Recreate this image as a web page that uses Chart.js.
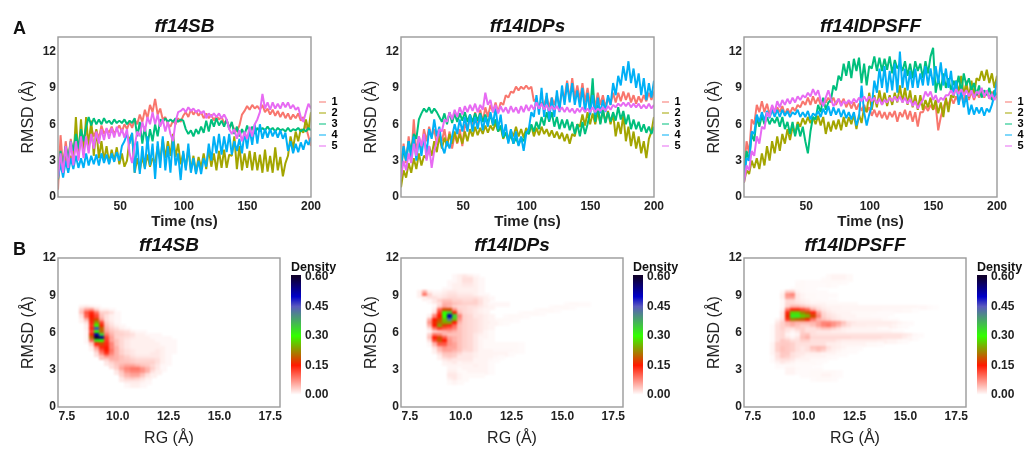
<!DOCTYPE html>
<html><head><meta charset="utf-8">
<script src="https://cdn.jsdelivr.net/npm/chart.js@4"></script>
<style>
html,body{margin:0;padding:0;background:#fff;width:1024px;height:450px;overflow:hidden}
canvas{position:absolute;filter:blur(.5px)}
.tag{position:absolute;font:bold 18px "Liberation Sans",Arial,sans-serif;color:#111;line-height:18px;filter:blur(.3px)}
</style></head><body>
<div class="tag" style="left:13px;top:19px">A</div>
<div class="tag" style="left:13px;top:240px">B</div>
<script>
const seriesNames=['1','2','3','4','5'];
const seriesColors=['#F8766D','#A3A500','#00BF7D','#00B0F6','#E76BF3'];
const timeTicks=[50,100,150,200];
const rmsdTicks=[0,3,6,9,12];
const rgTicks=[7.5,10,12.5,15,17.5];
const densityTicks=[0,0.15,0.30,0.45,0.60];
const densityStops=[0,0.15,0.30,0.45,0.50,0.60];
const densityColors=[[255,255,255],[255,25,0],[50,255,0],[90,90,190],[0,0,200],[15,0,45]];
const titles=['ff14SB','ff14IDPs','ff14IDPSFF'];

const sb1=[0.6,5.1,2.4,4.6,3.0,4.8,3.2,4.5,3.4,5.0,4.4,5.6,4.7,5.8,5.0,5.5,4.8,5.9,5.2,5.6,5.3,5.8,5.2,5.6,5.9,5.4,6.0,5.6,6.2,5.7,6.4,6.0,6.8,6.2,7.2,6.5,7.6,7.0,8.1,6.8,7.3,6.4,6.6,6.0,5.8,6.3,6.0,6.5,6.2,6.7,7.0,6.6,7.2,6.8,7.1,6.7,7.0,6.5,6.9,6.5,6.8,6.3,6.7,6.4,6.6,6.1,6.3,5.8,6.0,5.6,5.4,5.9,6.8,7.1,7.5,7.2,7.6,7.3,7.5,7.2,7.6,7.0,7.3,6.8,7.2,6.7,7.1,6.6,7.0,6.5,6.9,6.4,6.8,6.5,6.9,6.3,6.6,5.8,5.0,4.2];
const sb2=[1.4,3.2,2.0,3.6,2.3,3.4,2.8,6.6,3.2,6.4,3.5,6.6,4.0,6.3,3.4,5.6,3.2,4.6,3.0,4.2,2.8,3.9,3.0,4.1,2.7,3.6,2.5,3.0,4.8,5.2,2.0,3.2,2.2,3.3,2.4,3.5,2.5,3.2,2.8,4.2,3.0,4.8,3.2,4.6,3.4,5.2,3.3,4.4,2.7,3.6,2.4,4.0,2.2,3.4,2.0,3.3,2.4,3.6,2.3,4.0,2.5,3.6,2.2,3.8,2.4,3.9,2.4,3.5,3.4,5.0,2.3,4.2,2.2,3.6,2.4,3.8,2.2,3.7,2.2,3.5,2.0,3.9,2.1,3.4,2.0,4.1,2.2,3.3,1.7,2.8,3.4,5.0,4.0,5.4,4.6,5.6,5.3,6.4,5.5,7.0];
const sb3=[2.0,3.8,2.4,4.2,3.2,4.6,3.8,5.2,4.0,5.6,4.6,5.8,6.6,5.9,6.5,6.0,6.4,6.0,6.5,6.1,6.3,6.0,6.4,6.1,6.3,6.1,6.4,6.0,6.3,6.1,6.5,5.0,6.2,4.4,5.8,4.2,5.6,4.6,6.0,5.0,6.4,6.2,6.5,6.2,6.4,6.2,6.5,6.2,6.4,6.3,5.6,5.2,5.5,5.0,5.6,5.2,5.8,5.3,6.3,5.4,6.4,5.8,6.5,5.9,6.3,5.8,6.4,5.6,6.2,5.2,5.8,5.0,5.6,5.1,5.9,5.3,5.8,5.2,5.7,5.4,5.7,5.5,5.8,5.5,5.7,5.4,5.7,5.5,5.6,5.4,5.7,5.4,5.6,5.5,5.7,5.4,5.6,5.4,5.7,5.5];
const sb4=[1.5,2.8,1.6,3.0,2.0,3.2,2.3,3.4,2.4,3.2,2.4,3.6,2.6,3.4,2.7,3.5,2.6,3.6,2.8,3.5,2.7,3.6,2.9,3.7,3.0,4.2,4.6,5.2,4.4,5.3,2.0,4.6,1.9,4.2,2.3,5.0,2.6,4.4,1.5,4.6,2.4,5.0,2.2,4.2,2.0,5.0,2.6,3.6,1.4,3.8,2.2,4.4,2.0,3.2,1.9,3.0,1.9,3.2,2.5,4.4,3.0,5.0,3.6,5.2,3.5,5.0,3.7,5.2,3.5,4.6,3.8,4.8,3.6,5.4,4.0,5.6,4.3,6.0,4.4,6.0,4.8,5.6,4.9,5.6,5.0,5.5,4.9,5.5,4.8,5.3,3.8,4.6,3.6,4.4,3.7,4.5,3.9,4.7,4.3,4.9];
const sb5=[1.6,3.6,2.0,4.2,2.4,4.6,2.6,4.6,3.0,5.0,3.2,5.0,3.6,5.2,4.0,5.4,4.4,5.6,4.7,5.7,4.8,5.7,4.9,5.8,5.0,5.6,4.9,5.6,3.6,2.8,4.2,5.4,5.0,6.2,5.4,6.6,6.0,7.0,6.0,6.8,5.8,6.4,5.4,6.2,5.2,4.6,6.2,7.0,7.1,7.3,7.0,7.4,7.1,7.3,7.0,7.2,6.9,7.1,6.5,6.9,6.6,6.9,6.6,6.9,6.5,6.8,6.4,5.6,5.2,5.6,4.8,5.5,4.6,5.4,4.8,5.8,5.0,6.0,6.4,7.0,8.5,7.3,7.8,7.2,7.8,7.3,7.7,7.3,7.8,7.4,7.8,7.3,7.6,7.2,7.4,6.6,6.2,7.0,7.7,7.3];

const idp1=[2.0,4.4,2.8,5.0,3.2,6.4,3.6,5.0,4.0,5.6,4.6,5.8,5.0,5.6,4.4,5.2,4.6,5.6,4.2,5.4,4.0,5.2,4.4,5.6,4.2,6.0,5.6,6.8,5.8,7.0,6.0,7.2,6.2,7.4,6.6,7.6,7.0,7.8,7.0,7.8,7.6,8.4,8.2,8.7,8.6,9.1,8.8,9.1,8.9,9.2,8.9,9.1,7.9,8.1,7.2,7.8,7.6,8.3,7.4,8.2,7.6,8.4,7.5,8.6,8.2,9.6,8.0,9.8,8.2,9.2,8.0,9.4,7.8,9.0,7.6,8.8,7.4,8.6,7.6,8.4,7.4,8.2,7.6,8.6,7.8,8.6,7.9,8.7,8.0,8.6,7.8,8.4,7.7,8.3,7.8,8.4,7.9,8.6,8.0,8.7];
const idp2=[0.8,2.2,1.6,2.8,2.0,3.2,2.3,3.6,2.6,3.4,3.2,4.2,3.4,4.6,3.7,5.0,4.0,4.9,4.2,5.2,4.4,5.4,4.5,5.2,4.4,5.4,4.6,5.6,5.0,5.8,5.1,5.7,5.2,5.9,5.3,5.9,5.5,6.1,5.4,5.8,4.8,5.3,4.8,5.5,5.0,5.8,5.0,5.6,4.9,5.7,5.2,5.9,5.0,5.7,5.1,5.8,5.2,5.6,5.0,5.5,4.9,5.4,4.8,5.3,4.6,5.2,4.4,5.2,5.0,6.0,5.8,6.8,5.9,7.0,6.0,6.9,6.0,7.0,6.1,7.2,6.2,7.1,6.0,6.9,5.0,6.2,5.2,6.8,4.6,5.8,4.2,5.4,4.0,5.0,3.6,4.6,3.2,4.8,5.4,6.6];
const idp3=[2.4,4.0,3.0,4.6,3.8,5.2,4.8,6.4,6.9,7.3,7.0,7.4,6.9,7.3,7.0,6.6,6.2,6.9,6.0,7.0,6.1,6.9,6.2,6.9,6.3,7.0,6.2,6.8,6.2,6.9,6.3,6.9,6.2,6.8,6.1,6.8,5.9,6.4,5.4,5.9,4.9,5.3,4.6,5.1,4.4,4.9,4.3,4.9,4.6,5.4,5.2,6.0,5.4,6.2,5.6,6.6,5.9,7.0,6.2,7.0,5.8,6.6,5.6,6.4,5.7,6.4,5.5,6.2,5.2,6.0,5.0,6.2,5.2,6.0,7.0,9.8,6.2,7.6,6.0,7.2,6.1,7.0,6.2,7.0,6.3,7.4,6.4,7.1,6.0,6.8,5.6,6.4,5.6,6.2,5.4,6.0,5.3,5.8,5.2,5.8];
const idp4=[2.6,4.2,3.0,4.6,3.2,5.0,3.0,4.8,3.4,5.0,3.6,5.6,4.8,6.4,5.0,5.8,4.2,3.6,4.6,4.0,5.0,6.0,5.2,6.4,5.4,6.6,5.4,6.8,5.4,6.6,5.6,6.8,5.5,6.6,5.8,7.0,6.0,7.4,5.6,6.8,5.0,6.0,4.4,5.6,4.4,5.4,4.2,5.0,3.8,5.2,5.6,7.0,6.6,8.4,6.8,9.0,6.6,8.6,6.4,8.2,6.6,8.8,7.0,9.2,7.6,9.4,7.8,9.4,7.6,8.8,7.4,9.0,7.0,8.6,6.8,8.4,6.8,8.2,6.9,8.0,7.0,8.4,7.6,9.4,8.4,10.0,9.2,10.8,9.6,11.2,9.4,10.6,9.0,10.2,8.4,9.8,8.0,9.4,8.2,9.6];
const idp5=[1.6,3.0,2.2,3.6,2.8,4.4,3.4,5.0,4.2,5.2,3.0,4.2,2.4,3.8,4.6,5.6,5.4,6.4,6.2,7.0,6.4,7.2,6.6,7.4,6.8,7.5,7.0,7.6,7.1,7.7,7.0,7.6,7.2,8.6,7.6,8.0,7.0,7.6,6.9,7.5,7.0,7.4,6.9,7.5,7.0,7.4,6.9,7.5,7.0,7.6,7.1,7.6,7.2,7.8,7.3,7.7,7.2,7.6,7.1,7.5,7.2,7.5,7.1,7.4,7.0,7.4,7.0,7.3,6.9,7.3,7.0,7.4,7.0,7.3,7.0,7.4,7.0,7.3,7.1,7.4,7.1,7.5,7.2,7.6,7.4,7.7,7.5,7.8,7.5,7.8,7.4,7.7,7.4,7.7,7.3,7.6,7.3,7.7,7.3,7.6];

const sff1=[2.0,4.6,3.6,6.4,6.0,7.6,7.0,7.9,7.0,7.7,6.8,7.5,6.9,7.4,7.0,7.5,6.8,7.3,6.9,7.4,7.1,7.6,7.4,7.9,7.6,8.2,7.6,8.3,7.7,8.2,7.6,8.1,7.8,8.2,7.8,8.2,7.6,8.1,7.7,8.1,7.4,7.9,7.3,7.8,7.2,7.7,7.1,7.6,7.0,7.4,6.7,7.2,6.6,7.1,6.5,7.0,6.4,7.0,6.6,7.1,6.2,7.0,6.6,7.2,6.4,7.1,6.2,7.0,5.8,7.0,7.0,7.5,7.1,7.6,7.2,7.6,5.5,6.6,7.4,7.9,7.6,8.2,7.7,8.3,7.8,8.4,7.8,9.6,8.0,8.7,8.0,8.6,8.2,8.8,8.2,8.8,8.1,8.7,8.2,8.6];
const sff2=[1.2,2.2,1.9,3.0,2.4,3.2,2.3,3.6,2.6,4.2,3.0,4.6,3.6,5.0,3.8,5.2,4.4,5.6,4.7,5.8,5.2,6.2,5.8,6.5,6.0,6.6,6.1,6.6,6.0,6.7,5.9,6.6,5.2,6.2,5.4,6.3,5.6,6.4,5.5,6.6,5.8,6.6,6.0,6.8,5.6,6.8,6.1,7.4,7.0,8.6,7.2,8.4,7.4,8.8,7.6,8.6,7.5,8.4,7.6,8.6,7.8,9.2,7.8,9.0,7.6,8.8,7.4,8.4,7.2,8.4,7.2,8.0,7.4,8.2,7.2,8.0,6.9,7.8,6.6,8.2,7.0,8.4,8.2,9.6,8.6,10.0,8.4,9.4,8.2,9.6,8.4,9.8,9.6,10.4,9.6,10.5,9.4,10.2,9.0,10.0];
const sff3=[1.8,3.8,3.0,5.2,4.6,6.6,5.8,6.7,6.0,6.6,6.0,6.5,6.1,6.6,5.8,6.6,5.6,6.2,5.2,6.2,5.0,6.0,5.0,5.8,4.6,3.6,5.4,6.6,6.4,7.6,7.0,8.2,7.2,7.8,8.0,9.2,8.8,10.0,9.6,11.0,10.0,11.2,9.8,11.4,10.4,11.5,9.4,11.0,9.2,10.8,10.6,11.6,10.4,11.5,10.4,11.4,10.5,11.6,10.2,11.3,10.6,11.0,10.4,11.2,10.0,11.0,9.8,11.2,10.4,11.0,9.8,11.2,10.2,11.6,12.3,8.6,9.8,8.8,10.2,9.0,9.8,8.8,9.6,9.0,10.0,8.6,10.2,9.2,9.8,8.8,9.4,8.4,9.2,8.2,8.8,8.4,9.0,8.0,8.8,8.2];
const sff4=[1.4,3.2,3.0,5.4,5.2,6.8,6.2,7.0,6.3,7.1,6.5,7.2,6.6,7.2,6.6,7.2,6.7,7.1,6.6,7.0,6.8,7.2,6.6,7.0,6.6,7.1,6.4,6.9,6.7,7.1,6.6,7.3,6.8,7.5,6.7,7.4,6.8,7.3,6.6,7.2,6.5,7.0,6.4,7.0,5.9,6.6,9.2,7.0,5.9,6.8,7.5,9.6,8.6,10.6,9.0,10.8,8.6,10.4,8.8,11.0,8.6,12.0,9.0,10.6,8.8,10.4,9.0,10.6,9.0,10.2,9.2,10.8,9.2,10.6,9.2,10.8,9.4,11.1,9.2,10.6,9.0,10.4,8.4,9.6,7.6,8.8,7.4,8.4,6.8,7.6,6.8,7.4,6.9,7.4,6.7,7.3,7.0,7.6,8.4,9.6];
const sff5=[1.2,2.6,2.2,3.8,3.4,5.0,4.4,5.8,5.6,7.0,6.6,7.6,7.0,7.9,7.4,8.0,7.6,8.1,7.7,8.2,7.8,8.3,8.0,8.4,8.2,8.6,8.3,8.9,8.4,8.8,8.0,7.5,8.2,8.8,8.1,7.5,7.8,8.1,7.5,7.9,7.7,8.0,7.7,8.1,7.8,8.2,7.9,8.3,7.9,8.3,7.9,8.2,7.7,8.1,7.6,8.0,7.8,8.2,7.9,8.3,7.9,8.3,7.8,8.2,7.7,8.1,7.5,7.9,7.3,7.7,8.0,8.7,8.3,8.7,8.0,8.4,7.8,8.2,8.0,8.4,8.4,8.8,8.4,8.9,8.5,8.9,8.4,8.8,8.3,8.8,8.2,8.7,8.5,9.0,8.3,8.8,8.1,8.5,8.0,8.4];

/* density rows: [RMSD, first RG, then one density per 0.25 RG step, in hundredths] */
const sbDensity=[
[8,8.25,1,1.5,1,.5],[7.75,8.25,3,6,7,3,1,1,.5],[7.5,8.25,4,11,14,9,3,3,2,.5],[7.25,8.25,2,10,15,12,4,2,1,.5],[7,8.25,1,5,16,18,6,2,1,.5],
[6.75,8.5,2,14,24,12,3,1.5,.5],[6.5,8.5,1,13,30,16,4,2,1,.5],[6.25,8.5,1,14,46,20,5,3,2,1,.5],[6,8.5,.5,12,30,20,6,4,3,2.5,2,1,.5,.5],
[5.75,8.5,.5,16,52,34,9,5,3,3,2.5,2,1,1,.5,.5,.5],[5.5,8.5,.5,20,60,54,12,6,3,2.5,2,1.5,1,1,1,.5,.5,.5,.5],[5.25,8.5,.5,10,32,30,13,6,4,2.5,1.5,1,1,1,1,1,.5,.5,.5,.5],
[5,8.75,3,14,18,14,8,4,2.5,1.5,1,1,1,1,1,1,.5,.5,.5],[4.75,8.75,1,7,14,15,8,5,2.5,1.5,1,1,1,1,1,1,1,.5,.5],[4.5,9,4,11,15,9,5,3,2,1.5,1,1,1,1,1.5,1,.5,.5],
[4.25,9,2,8,13,8,5,3,2,1.5,1,1,1,1.5,1.5,1,.5],[4,9.25,4,7,6,5,4,3,2,1.5,1.5,1.5,1.5,1.5,1,.5],[3.75,9.5,3,5,5,4,3.5,3,2.5,2.5,2.5,2.5,2,1,.5],[3.5,9.5,1.5,3,4,4,4,3.5,3,3,3,3,2,1,.5],
[3.25,9.75,2,3.5,5,6,6,5,4,3.5,2.5,1.5,.5],[3,10,3,6,8,9,9,7,5,3,1.5,.5],[2.75,10,1.5,4,7,8,8,7,5,2,1],[2.5,10.25,3,5,6,6,4,2,1],[2.25,10.25,1.5,3,3.5,3,2,1],[2,10.5,1.5,1.5,1.5,1,.5],[1.75,10.5,.5,1,1,.5]];
const idpDensity=[
[10.5,9.75,.5,1,1.5,1,.5],[10.25,9.75,.5,1,2,2,1,.5],[10,9.5,.5,.5,1,2,2,1,.5],[9.75,9.5,.5,1,1,1.5,1.5,1,.5],[9.5,9.25,.5,.5,1,1,1,1,1,.5],
[9.25,8,1,5,1,.5,.5,1,1.5,1.5,1,1,1,1,.5],[9,8,1,9,3,1,1,1.5,2,2,1.5,1.5,1.5,1,.5,.5],[8.75,8.25,1,2,2,1.5,2,2.5,2.5,2,2,2,2,1.5,1,.5],[8.5,8.5,.5,1.5,3,4,4,3,3,2.5,2.5,3,2,1],
[8.25,9,2,5,5,4,3.5,3,3,3,2,1,.5,.5,.5,.5],[8.25,15.25,.3,.4,.4,.3,.3],[8,14.5,.3,.4,.4,.4,.3],[7.75,13.75,.3,.4,.4,.4,.3],[7.5,13,.3,.4,.4,.4,.3],[7.25,12.25,.3,.4,.4,.4,.3],[7,11.75,.4,.4,.4,.4,.3],[6.75,11.5,.7,.7,.4,.3],
[8,8.75,.5,3,6,5,3,2.5,2.5,2,2,1.5,1,.7],[7.75,8.75,1,10,18,18,7,3,2.5,2,1.5,1,.7],[7.5,8.75,2,13,30,34,16,4,2.5,2,1.5,1,.7],[7.25,8.5,1,8,15,30,52,34,8,3,2.5,1.5,1.5,1,.7],
[7,8.5,5,15,18,26,42,26,7,3,2.5,2,1.5,1,.7],[6.75,8.5,7,16,20,24,24,15,5,3,2.5,2,1.5,1],[6.5,8.5,5,15,24,17,14,10,4,3,2.5,2,1.5,1,.7],[6.25,8.5,2,9,13,11,10,8,4,3,2.5,2,1.5,1,.7],
[6,8.5,.5,3,4,5,6,5,4,3,2.5,2,1.5,.7,.4],[5.75,8.5,3,9,8,5,4,4,4,3,2.5,1.5,1,.7,.4],[5.5,8.5,4,15,18,11,6,5,4,3,2.5,1.5,.7,.7,.4],[5.25,8.5,2,12,19,15,7,5,4,3,2.5,1.5,.7,.4,.4],[5,8.5,.5,5,11,11,7,6,4,3,2.5,1.5,.7,.4,.4,.4,.4,.4,.4,.4,.3],
[4.75,8.75,2,5,7,6,6,4,3,2.5,1.5,.7,.4,.4,.4,.4,.4,.4,.4,.3],[4.5,8.75,1,4,6,6,5,4,2.5,2.5,1.5,.7,.7,.7,.5,.5,.5,.5,.4,.3],[4.25,9,2,4,4,3.5,2.5,1.5,1.5,1,.7,.7,.7,.7,.7,.7,.3],[4,9,1,3,3.5,3,1.5,1.5,1.5,1,.7,.7,.7,.5,.3],
[3.75,9.25,1.5,2,1.5,1.5,1.5,1.5,.7,.7,.7,.5,.3],[3.5,9.25,.7,1,1.5,.7,1,1,.7,.7,.7,.3],[3.25,9.5,.7,.7,.7,.7,.7,1,.7,.7,.3],[3,9.5,.7,.7,.4,.7,.7,.7,.7,.7,.3],[2.75,9.5,1,1,.4,.4,.7,.7,.7,.7,.3],[2.5,9.5,1.5,1.5,.7,.4,.4,.4,.4],[2.25,9.5,1,1.5,.7,.4],[2,9.5,.4,.7,.4]];
const sffDensity=[
[10.5,11.25,.4,.7,.7,.7,.4],[10.25,11,.3,.4,.7,.7,.7,.4],[10,9.75,.3,.4,.3,.3,.3,.4,.4,.4,.4,.3],[9.75,9.75,.4,.4,.3,.3,.3,.3,.4,.3],[9.5,9.5,.3,.4,.4,.3,.3],
[9.25,9,.4,3,3,.7,.4,.3,.3,.3,.3],[9,9,1,7,8,1.5,.7,.4,.4,.3,.3,.3,.3],[8.75,9,1,6,6,1.5,.7,.4,.4,.3,.3],[8.5,9,.4,2.5,2.5,1.5,1,.7,.4,.4,.3,.3,.3],
[8.25,9,.4,2.5,2.5,2,1.5,1,.7,.7,.7,.4,.4,.4,.4,.4,.4],[8,9,.4,3,5,5,4,3,2,1.5,1,.7,.7,.7,.6,.6,.6,.6,.6,.6,.6,.6,.6,.6,.6,.6,.6,.6,.6,.5,.5,.3,.2],
[7.75,9,.7,9,14,14,12,10,5,2.5,1.5,1,.7,.7,.6,.6,.6,.6,.6,.6,.6,.6,.5,.5,.5,.5,.4,.4,.2],[7.5,9,1.5,14,27,27,22,19,14,6,2.5,1.5,1,.7,.7,.7,.4,.4,.4,.4,.4,.3,.3,.3],
[7.25,9,1.5,16,32,32,26,24,18,8,3,2,1.5,1,.7,.7,.7,.4,.4,.4,.3,.3,.3],[7,8.75,.7,2,13,22,20,19,16,9,5,4,3,2,1.5,1,.7,.7,.7,.7,.7,.7,.7,.4,.3,.3],
[6.75,8.75,1.5,3,5,6,5,5,5,5,6,8,8,7,6,4,2,1.5,1.2,1.2,1.2,1.2,1.2,1.2,1.2,1,.7,.4,.3],[6.5,8.5,.3,2,3,4,5,4,3,3,4,6,8,9,7,5,3,2,1.2,1.2,1.2,1,1,1,1,1,.7,.4,.3],
[6.25,8.5,.3,2,3,2,2,3,3,2,2,3,4,4,3,2,1.2,1,.7,.7,.7,.7,.7,.4,.3],[6,8.5,.3,2,2.5,1.5,.7,1.5,3,2,2,1.5,1.5,1.5,1.2,1.2,1,.7,.7,.7,.7,.7,.7,.7,.7,.7,.4,.3],
[5.75,8.5,.3,2,2.5,.7,.3,.7,3.5,4,2,1.8,1.8,1.8,1.8,1.8,1.8,1.8,1.8,1.8,1.8,1.8,1.8,1.8,1.8,1.8,1.8,1.8,1.5,1.2,.5,.3],[5.5,8.5,.3,2,2.5,1.5,.7,1.5,4,5,2.5,2.5,2.5,2.5,2.5,2.5,2.5,2.5,2.2,2.2,2.2,2.2,2.2,2.2,1.8,1.8,1.8,1.8,1.2,.7,.3],
[5.25,8.5,.3,2,3.5,3,2,2,3,3,2,2,2,2,2,1.5,1.2,1.2,1.2,1.2,1.2,1.2,1.2,1,1,.7,.7,.4,.3],[5,8.5,.7,3,3.5,3.5,3,2,2,2,2,2,2,1.2,1.2,1,.7,.7,.7,.7,.7,.4,.4,.3],
[4.75,8.5,.7,3,4,3.5,3,2,1.5,2,4,4.5,4,2,1.2,1,.7,.4,.4,.3],[4.5,8.5,.7,3,4,3.5,3,2,1.5,2,3,4,3,1.5,1,.7,.4,.3,.3],[4.25,8.5,.7,2,3.5,3.5,2,1.5,1.5,1,1,1,.7,.7,.7,.4,.3],
[4,8.5,.3,2,3.5,3,2,1.5,1,.7,.7,.7,.7,.4,.3],[3.75,8.5,.3,1.5,2,2,1.5,.7,.7,.7,.4,.4,.3],[3.5,8.75,.7,1.5,1,.7,.4,.4,.4,.4,.3],[3.25,8.75,.3,.3,.4,.4,.3,.3,.3],[3,9.25,.7,.7,.4,.3,.3,.3,.3],
[2.75,9.25,.7,.7,.3,.3,.3,.4,.4,.4,.4,.4,.3],[2.5,10,.3,.3,.4,.4,.7,.7,.4,.3],[2.25,10.5,.3,.4,.4,.4,.3]];

const lineSets=[[sb1,sb2,sb3,sb4,sb5],[idp1,idp2,idp3,idp4,idp5],[sff1,sff2,sff3,sff4,sff5]];
const densitySets=[sbDensity,idpDensity,sffDensity];
const topLefts=[58,401,744];
const barLefts=[291,633,977];

const SANS='"Liberation Sans",Arial,sans-serif', INK='#222';
Chart.defaults.font.family=SANS; Chart.defaults.color=INK; Chart.defaults.animation=false;

function mk(left,top,w,h){const c=document.createElement('canvas');c.width=w;c.height=h;c.style.left=left+'px';c.style.top=top+'px';c.style.width=w+'px';c.style.height=h+'px';document.body.appendChild(c);return c;}
const frame={id:'frame',afterDraw(c){const a=c.chartArea,x=c.ctx;x.save();x.strokeStyle='#9a9a9a';x.lineWidth=1.4;x.strokeRect(a.left,a.top,a.right-a.left,a.bottom-a.top);x.restore();}};
const legendPlace={id:'legendPlace',afterLayout(c){const a=c.chartArea,L=c.legend;L.left=a.right+8;L.right=L.left+20;L.top=a.top+59.5;L.bottom=L.top+58;}};
const smooth={id:'smooth',afterDatasetsDraw(c){const a=c.chartArea,x=c.ctx,w=a.right-a.left,h=a.bottom-a.top;
  const t=document.createElement('canvas');t.width=w;t.height=h;const g=t.getContext('2d');g.filter='blur(1.1px)';g.drawImage(c.canvas,a.left,a.top,w,h,0,0,w,h);
  x.save();x.clearRect(a.left,a.top,w,h);x.drawImage(t,a.left,a.top);x.restore();}};

function shade(v){const d=v/100;let i=0;while(i<densityStops.length-2&&d>densityStops[i+1])i++;
  const f=Math.min(1,(d-densityStops[i])/(densityStops[i+1]-densityStops[i]));const A=densityColors[i],B=densityColors[i+1];
  return `rgb(${A.map((n,k)=>Math.round(n+(B[k]-n)*f)).join(',')})`;}
const cellCache={};
function cellImage(v,w,h){const k=v+'_'+w+'_'+h;if(!cellCache[k]){const c=document.createElement('canvas');c.width=w;c.height=h;const g=c.getContext('2d');g.fillStyle=shade(v);g.fillRect(0,0,w,h);cellCache[k]=c;}return cellCache[k];}

/* A row: RMSD over time */
lineSets.forEach((set,p)=>{
  new Chart(mk(topLefts[p]-58,5,339,230),{type:'line',
    data:{datasets:set.map((vals,s)=>({label:seriesNames[s],data:vals.map((y,i)=>({x:1+i*199/(vals.length-1),y})),borderColor:seriesColors[s],backgroundColor:seriesColors[s],borderWidth:2,pointRadius:0,tension:0,borderJoinStyle:'bevel',order:5-s}))},
    options:{responsive:false,devicePixelRatio:1,layout:{padding:{right:28}},
      plugins:{tooltip:{enabled:false},
        title:{display:true,text:titles[p],fullSize:false,color:'#111',font:{size:19,weight:'bold',style:'italic'},padding:{top:10,bottom:-.8}},
        legend:{position:'chartArea',align:'start',labels:{boxWidth:7,boxHeight:2,padding:0,color:INK,font:{size:11,weight:'bold'},
          generateLabels:()=>seriesNames.map((t,i)=>({text:t,fillStyle:seriesColors[i]+'80',strokeStyle:seriesColors[i]+'80',lineWidth:0,datasetIndex:i}))}}},
      scales:{
        x:{type:'linear',min:1,max:200,grid:{display:false,drawTicks:false},border:{display:false},afterBuildTicks:s=>{s.ticks=timeTicks.map(v=>({value:v}));},afterFit:s=>{s.height=38;},
          ticks:{padding:2,maxRotation:0,autoSkip:false,color:INK,font:{size:12,weight:'bold'}},
          title:{display:true,text:'Time (ns)',color:INK,font:{size:15,weight:'bold'},padding:{top:0,bottom:4}}},
        y:{min:0,max:13.2,grid:{display:false,drawTicks:false},border:{display:false},afterBuildTicks:s=>{s.ticks=rmsdTicks.map(v=>({value:v}));},afterFit:s=>{s.width=58;},
          ticks:{padding:2,color:INK,font:{size:12,weight:'bold'}},
          title:{display:true,text:'RMSD (Å)',color:INK,font:{size:16},padding:{top:18.5,bottom:0}}}}},
    plugins:[frame,legendPlace]});
});

/* B row: density maps */
densitySets.forEach((rows,p)=>{
  const cells=[];rows.forEach(r=>{for(let i=2;i<r.length;i++)cells.push({x:r[1]+(i-2)*0.25,y:r[0],v:r[i]});});
  new Chart(mk(topLefts[p]-58,233,285,217),{type:'scatter',
    data:{datasets:[{data:cells,pointRadius:1,pointStyle:ctx=>{const s=ctx.chart.scales;if(!s.x||!ctx.raw)return 'rect';
      const w=Math.ceil(Math.abs(s.x.getPixelForValue(.25)-s.x.getPixelForValue(0)))+1,h=Math.ceil(Math.abs(s.y.getPixelForValue(.25)-s.y.getPixelForValue(0)))+1;return cellImage(ctx.raw.v,w,h);}}]},
    options:{responsive:false,devicePixelRatio:1,layout:{padding:{right:2}},
      plugins:{tooltip:{enabled:false},legend:{display:false},
        title:{display:true,text:titles[p],fullSize:false,color:'#111',font:{size:19,weight:'bold',style:'italic'},padding:{top:1.4,bottom:.8}}},
      scales:{
        x:{type:'linear',min:7.06,max:17.98,grid:{display:false,drawTicks:false},border:{display:false},afterBuildTicks:s=>{s.ticks=rgTicks.map(v=>({value:v}));},afterFit:s=>{s.height=43;},
          ticks:{padding:2,maxRotation:0,autoSkip:false,color:INK,font:{size:12,weight:'bold'},callback:v=>v.toFixed(1)},
          title:{display:true,text:'RG (Å)',color:INK,font:{size:16},padding:{top:0,bottom:1.4}}},
        y:{min:0,max:12,grid:{display:false,drawTicks:false},border:{display:false},afterBuildTicks:s=>{s.ticks=rmsdTicks.map(v=>({value:v}));},afterFit:s=>{s.width=58;},
          ticks:{padding:2,color:INK,font:{size:12,weight:'bold'}},
          title:{display:true,text:'RMSD (Å)',color:INK,font:{size:16},padding:{top:18.5,bottom:0}}}}},
    plugins:[smooth,frame]});
  /* colour bar */
  new Chart(mk(barLefts[p],258,47,148),{type:'bar',
    data:{labels:['Density'],datasets:[{data:[0.61],barPercentage:1,categoryPercentage:1,backgroundColor:ctx=>{const c=ctx.chart,y=c.scales.y;if(!c.chartArea||!y)return '#f00';
      const g=c.ctx.createLinearGradient(0,y.getPixelForValue(0),0,y.getPixelForValue(.6));densityStops.forEach((d,i)=>g.addColorStop(d/.6,`rgb(${densityColors[i].join(',')})`));return g;}}]},
    options:{responsive:false,devicePixelRatio:1,
      plugins:{tooltip:{enabled:false},legend:{display:false},title:{display:true,text:'Density',align:'start',color:'#111',font:{size:12.5,weight:'bold'},padding:{top:2,bottom:0}}},
      scales:{x:{display:false},
        y:{position:'right',min:0,max:0.61,grid:{display:false,drawTicks:false},border:{display:false},afterBuildTicks:s=>{s.ticks=densityTicks.map(v=>({value:v}));},afterFit:s=>{s.width=37;},
          ticks:{padding:4,color:INK,font:{size:12,weight:'bold'},callback:v=>v.toFixed(2)}}}}});
});
</script></body></html>
